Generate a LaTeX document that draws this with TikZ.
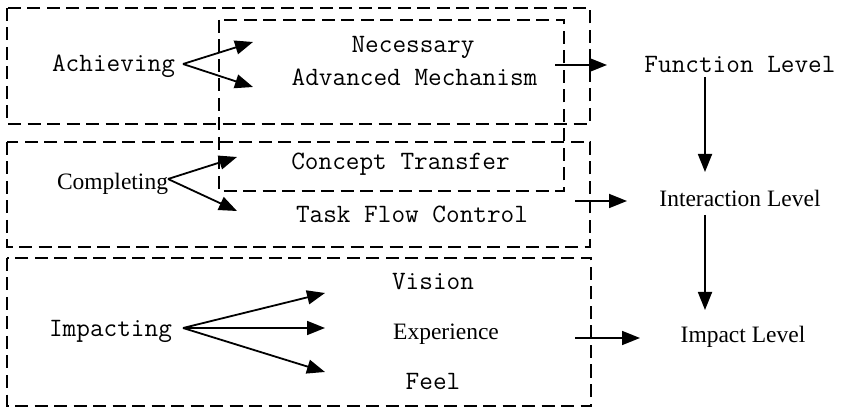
\documentclass[tikz,border=0pt]{standalone}
\usepackage{fontspec}
\setmainfont{Liberation Serif}
\usetikzlibrary{arrows.meta}
\begin{document}
\begin{tikzpicture}[x=1pt,y=-1pt,
  dbox/.style={draw,line width=1.8pt,dash pattern=on 13pt off 6.5pt},
  link/.style={line width=1.8pt,-{Triangle[length=18pt,width=14pt]}},
  mono/.style={anchor=base,inner sep=0pt,font=\fontsize{26.5}{30}\selectfont\ttfamily},
  serif/.style={anchor=base,inner sep=0pt,font=\fontsize{23.5}{28}\selectfont\rmfamily}]
\useasboundingbox (0,0) rectangle (843,411);

% dashed group frames
\draw[dbox] (7,8) rectangle (590,124);
\draw[dbox] (7,142) rectangle (590,247);
\draw[dbox] (7,258) rectangle (591,406);
\draw[dbox] (219,20) rectangle (564,191);

% labels
\node[mono]  (ach)  at (113.5,72) {Achieving};
\node[mono]  (nec)  at (413,53)   {Necessary};
\node[mono]  (adv)  at (414.5,86) {Advanced Mechanism};
\node[mono]  (fun)  at (740,73)   {Function Level};
\node[serif] (comp) at (112.5,190){Completing};
\node[mono]  (con)  at (400.5,170){Concept Transfer};
\node[mono]  (task) at (412,223)  {Task Flow Control};
\node[serif] (inter) at (740,207) {Interaction Level};
\node[mono]  (imp)  at (110.5,337){Impacting};
\node[mono]  (vis)  at (433,290)  {Vision};
\node[serif] (exp)  at (446,340)  {Experience};
\node[mono]  (feel) at (433,389)  {Feel};
\node[serif] (impl) at (743,343)  {Impact Level};

% connector end points
\coordinate (achS) at (183,64);
\coordinate (necT) at (253,42);
\coordinate (advT) at (253,87);
\coordinate (compS) at (168,179);
\coordinate (conT) at (237,157);
\coordinate (taskT) at (237,211);
\coordinate (impS) at (183,328);
\coordinate (visT) at (325,293);
\coordinate (expT) at (325,328);
\coordinate (feelT) at (325,372);
\coordinate (o1) at (555,65);   \coordinate (f1) at (607,65);
\coordinate (o2) at (575,201);  \coordinate (f2) at (627,201);
\coordinate (o3) at (575,338);  \coordinate (f3) at (640,338);
\coordinate (v1) at (705,77);   \coordinate (v2) at (705,172);
\coordinate (v3) at (705,215);  \coordinate (v4) at (705,310);

% connectors
\draw[link] (achS) -- (necT);
\draw[link] (achS) -- (advT);
\draw[link] (compS) -- (conT);
\draw[link] (compS) -- (taskT);
\draw[link] (impS) -- (visT);
\draw[link] (impS) -- (expT);
\draw[link] (impS) -- (feelT);
\draw[link] (o1) -- (f1);
\draw[link] (o2) -- (f2);
\draw[link] (o3) -- (f3);
\draw[link] (v1) -- (v2);
\draw[link] (v3) -- (v4);
\end{tikzpicture}
\end{document}
